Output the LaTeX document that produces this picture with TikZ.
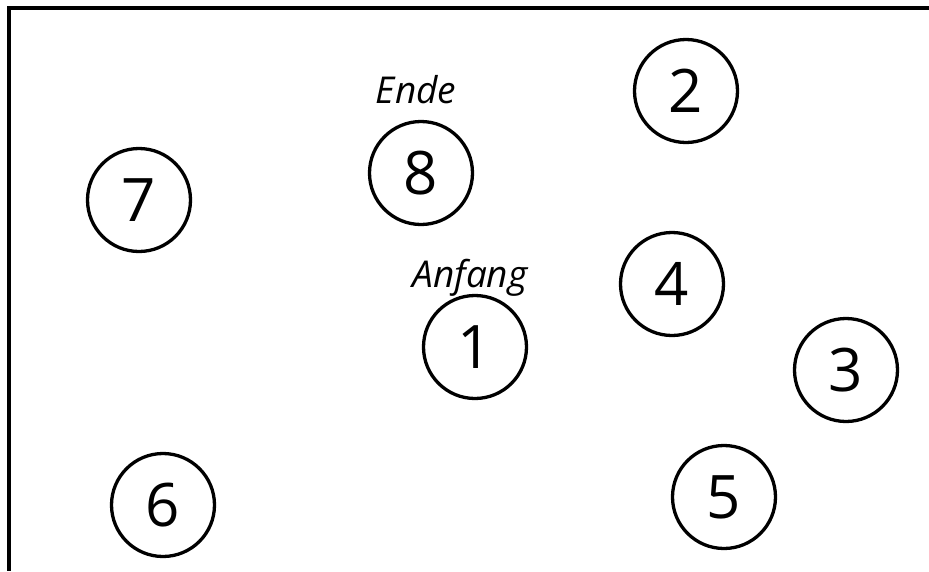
\documentclass[tikz,border=0pt]{standalone}
\usepackage{fontspec}
\setmainfont{Open Sans}
\usepackage{tikz}

\begin{document}
\begin{tikzpicture}[x=1pt,y=-1pt,
    nummer/.style={draw, circle, line width=3.3pt, minimum size=103pt, inner sep=0pt, font=\fontsize{60}{60}\selectfont},
    marke/.style={anchor=base, font=\fontsize{37}{37}\selectfont\itshape}]
    \useasboundingbox (0,0) rectangle (929,571);

    % Rahmen oben und links
    \draw[line width=4pt] (929,8) -- (9,8) -- (9,571);

    % Kreise
    \node[nummer] (n1) at (475,347) {1};
    \node[nummer] (n2) at (686,91) {2};
    \node[nummer] (n3) at (846,370) {3};
    \node[nummer] (n4) at (672,284) {4};
    \node[nummer] (n5) at (724,497) {5};
    \node[nummer] (n6) at (163,505) {6};
    \node[nummer] (n7) at (139,200) {7};
    \node[nummer] (n8) at (421,173) {8};

    % Beschriftungen
    \node[marke] (ende) at (416,103) {Ende};
    \node[marke] (anfang) at (470,287) {Anfang};
  \end{tikzpicture}
\end{document}
